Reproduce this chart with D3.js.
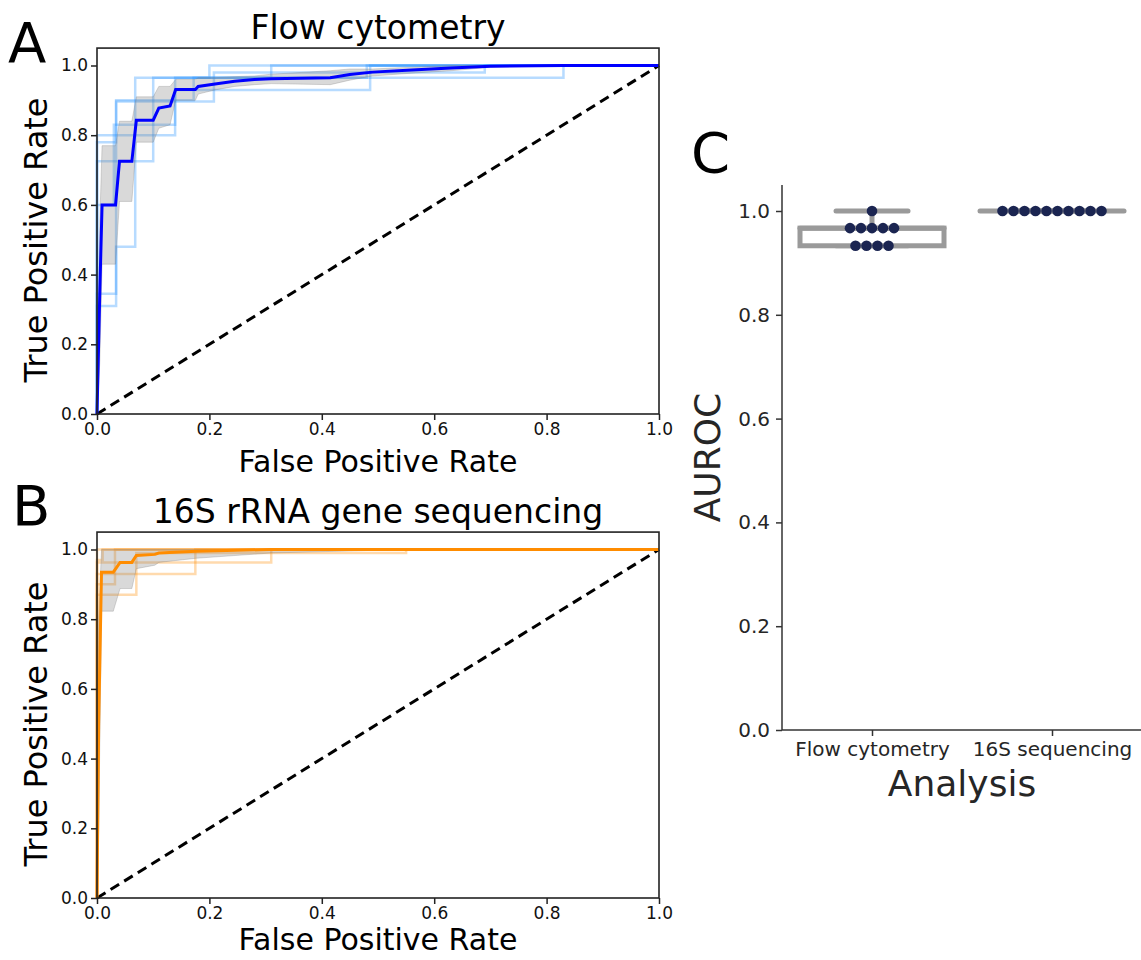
<!DOCTYPE html>
<html>
<head>
<meta charset="utf-8">
<script src="https://cdn.jsdelivr.net/npm/d3@7"></script>
<style>
body { margin: 0; background: #fff; }
text { font-family: "DejaVu Sans", sans-serif; }
</style>
</head>
<body>
<div id="chart"></div>
<script>
// ---- data ----
var ticksRoc = [0, 0.2, 0.4, 0.6, 0.8, 1.0];

// panel A : flow cytometry, single folds
var foldsA = [
  [[0,0],[0,0.31],[0.034,0.31],[0.034,0.90],[0.068,0.90],[0.068,0.965],[0.31,0.965],[0.31,1],[1,1]],
  [[0,0],[0,0.345],[0.034,0.345],[0.034,0.48],[0.068,0.48],[0.068,0.83],[0.139,0.83],[0.139,0.965],[0.48,0.965],[0.48,1],[1,1]],
  [[0,0],[0,0.725],[0.10,0.725],[0.10,0.965],[0.20,0.965],[0.20,1],[1,1]],
  [[0,0],[0,0.80],[0.139,0.80],[0.139,0.93],[0.486,0.93],[0.486,1],[1,1]],
  [[0,0],[0,0.60],[0.03,0.60],[0.03,0.83],[0.068,0.83],[0.068,0.90],[0.172,0.90],[0.172,0.965],[0.83,0.965],[0.83,1],[1,1]],
  [[0,0],[0,0.78],[0.034,0.78],[0.034,0.897],[0.208,0.897],[0.208,0.98],[0.69,0.98],[0.69,1],[1,1]]
];
var meanFprA = [0, 0.005, 0.009, 0.033, 0.04, 0.062, 0.07, 0.10, 0.11, 0.13, 0.14, 0.175, 0.18, 0.21, 0.245, 0.28, 0.31, 0.415, 0.45, 0.49, 0.56, 0.63, 0.70, 0.83, 1.0];
var meanTprA = [0, 0.35, 0.60, 0.60, 0.725, 0.725, 0.843, 0.843, 0.878, 0.884, 0.931, 0.931, 0.94, 0.947, 0.955, 0.96, 0.962, 0.965, 0.974, 0.981, 0.987, 0.993, 0.998, 1.0, 1.0];
var upperTprA = [0, 0.55, 0.77, 0.77, 0.84, 0.84, 0.91, 0.91, 0.94, 0.94, 0.96, 0.96, 0.965, 0.965, 0.968, 0.97, 0.975, 0.985, 0.99, 0.99, 0.995, 1.0, 1.0, 1.0, 1.0];
var lowerTprA = [0, 0.15, 0.43, 0.43, 0.61, 0.61, 0.78, 0.78, 0.82, 0.83, 0.90, 0.90, 0.918, 0.93, 0.94, 0.945, 0.948, 0.945, 0.958, 0.97, 0.978, 0.985, 0.995, 1.0, 1.0];

// panel B : 16S sequencing
var foldsB = [
  [[0,0],[0,1],[1,1]],
  [[0,0],[0,0.90],[0.032,0.90],[0.032,1],[1,1]],
  [[0,0],[0,0.963],[0.31,0.963],[0.31,1],[1,1]],
  [[0,0],[0,0.93],[0.175,0.93],[0.175,1],[1,1]],
  [[0,0],[0,0.87],[0.07,0.87],[0.07,0.99],[0.55,0.99],[0.55,1],[1,1]],
  [[0,0],[0,0.97],[0.01,0.97],[0.01,1],[1,1]]
];
var meanFprB = [0, 0.003, 0.008, 0.029, 0.041, 0.062, 0.07, 0.103, 0.11, 0.177, 0.31, 0.55, 1.0];
var meanTprB = [0, 0.5, 0.935, 0.935, 0.963, 0.963, 0.983, 0.986, 0.99, 0.995, 1.0, 1.0, 1.0];
var upperTprB = [0, 0.8, 1.0, 1.0, 1.0, 1.0, 1.0, 1.0, 1.0, 1.0, 1.0, 1.0, 1.0];
var lowerTprB = [0, 0.2, 0.823, 0.823, 0.888, 0.888, 0.945, 0.955, 0.963, 0.975, 0.99, 1.0, 1.0];

// panel C : AUROC per fold
var analyses = ["Flow cytometry", "16S sequencing"];
var aurocFlow = [1.0, 0.967, 0.967, 0.967, 0.967, 0.967, 0.933, 0.933, 0.933, 0.933];
var auroc16S = [1.0, 1.0, 1.0, 1.0, 1.0, 1.0, 1.0, 1.0, 1.0, 1.0];
var ticksAuroc = [0, 0.2, 0.4, 0.6, 0.8, 1.0];

var svg = d3.select("#chart").append("svg")
  .attr("width", 1141)
  .attr("height", 960);

function drawRoc(cfg) {
  var g = svg.append("g");
  var x = d3.scaleLinear().domain([0, 1]).range([97, 659]);
  var y = d3.scaleLinear().domain([0, 1.05]).range([cfg.bottom, cfg.bottom - 1.05 * 348.5]);
  var top = y(1.05);
  var line = d3.line().x(function(d){ return x(d[0]); }).y(function(d){ return y(d[1]); });

  g.selectAll(".fold")
    .data(cfg.folds)
    .enter()
    .append("path")
    .attr("d", line)
    .style("fill", "none")
    .style("stroke", cfg.foldColor)
    .style("stroke-opacity", 0.32)
    .style("stroke-width", 2.5);

  g.append("path")
    .attr("d", line([[0,0],[1,1]]))
    .style("fill", "none")
    .style("stroke", "#000")
    .style("stroke-width", 3)
    .style("stroke-dasharray", "10,6");

  var area = d3.area()
    .x(function(d, i){ return x(cfg.fpr[i]); })
    .y0(function(d, i){ return y(cfg.lower[i]); })
    .y1(function(d, i){ return y(cfg.upper[i]); });
  g.append("path")
    .attr("d", area(cfg.fpr))
    .style("fill", "grey")
    .style("fill-opacity", 0.3)
    .style("stroke", "grey")
    .style("stroke-opacity", 0.3);

  var meanPts = cfg.fpr.map(function(f, i){ return [f, cfg.mean[i]]; });
  g.append("path")
    .attr("d", line(meanPts))
    .style("fill", "none")
    .style("stroke", cfg.meanColor)
    .style("stroke-width", 3);

  var xAxis = g.append("g")
    .attr("transform", "translate(0," + cfg.bottom + ")")
    .call(d3.axisBottom(x).tickValues(ticksRoc).tickFormat(d3.format(".1f")).tickSize(6).tickSizeOuter(0).tickPadding(3));
  var yAxis = g.append("g")
    .attr("transform", "translate(97,0)")
    .call(d3.axisLeft(y).tickValues(ticksRoc).tickFormat(d3.format(".1f")).tickSize(6).tickSizeOuter(0).tickPadding(3));
  [xAxis, yAxis].forEach(function(a){
    a.select(".domain").remove();
    a.selectAll("line").style("stroke", "#222").style("stroke-width", 1.5);
    a.selectAll("text").style("font-size", "17px").style("fill", "#111").style("font-family", "DejaVu Sans");
  });

  g.append("rect")
    .attr("x", 97).attr("y", top)
    .attr("width", 562).attr("height", cfg.bottom - top)
    .style("fill", "none")
    .style("stroke", "#222")
    .style("stroke-width", 1.6);

  g.append("text")
    .attr("x", 378).attr("y", top - 9)
    .attr("text-anchor", "middle")
    .style("font-size", "33px")
    .text(cfg.title);
  g.append("text")
    .attr("x", 378).attr("y", cfg.bottom + cfg.xlabGap)
    .attr("text-anchor", "middle")
    .style("font-size", "30px")
    .text("False Positive Rate");
  g.append("text")
    .attr("transform", "translate(47," + ((top + cfg.bottom) / 2 + 9) + ") rotate(-90)")
    .attr("text-anchor", "middle")
    .style("font-size", "32px")
    .text("True Positive Rate");
  g.append("text")
    .attr("x", cfg.letterX).attr("y", cfg.letterY)
    .style("font-size", "56px")
    .text(cfg.letter);
}

drawRoc({ bottom: 414, folds: foldsA, foldColor: "#1e90ff", meanColor: "#0000ff",
  fpr: meanFprA, mean: meanTprA, upper: upperTprA, lower: lowerTprA, xlabGap: 58,
  title: "Flow cytometry", letter: "A", letterX: 8, letterY: 62 });
drawRoc({ bottom: 898, folds: foldsB, foldColor: "#ff8c00", meanColor: "#ff8c00",
  fpr: meanFprB, mean: meanTprB, upper: upperTprB, lower: lowerTprB, xlabGap: 52,
  title: "16S rRNA gene sequencing", letter: "B", letterX: 12, letterY: 525 });

// ---- panel C ----
var gc = svg.append("g");
var xc = d3.scalePoint().domain(analyses).range([782, 1142]).padding(0.5);
var yc = d3.scaleLinear().domain([0, 1.05]).range([730, 730 - 1.05 * 519]);
var groups = [aurocFlow, auroc16S];
var boxGrey = "#9a9a9a";
var half = 72;

groups.forEach(function(vals, k){
  var cx = xc(analyses[k]);
  var s = vals.slice().sort(d3.ascending);
  var q1 = d3.quantile(s, 0.25), med = d3.quantile(s, 0.5), q3 = d3.quantile(s, 0.75);
  var iqr = q3 - q1;
  var hi = d3.max(s.filter(function(v){ return v <= q3 + 1.5 * iqr; }));
  var lo = d3.min(s.filter(function(v){ return v >= q1 - 1.5 * iqr; }));
  // whiskers
  gc.append("line").attr("x1", cx).attr("x2", cx).attr("y1", yc(q3)).attr("y2", yc(hi))
    .style("stroke", boxGrey).style("stroke-width", 5);
  gc.append("line").attr("x1", cx).attr("x2", cx).attr("y1", yc(q1)).attr("y2", yc(lo))
    .style("stroke", boxGrey).style("stroke-width", 5);
  [hi, lo].forEach(function(v){
    gc.append("line").attr("x1", cx - half / 2).attr("x2", cx + half / 2).attr("y1", yc(v)).attr("y2", yc(v))
      .style("stroke", boxGrey).style("stroke-width", 5).style("stroke-linecap", "round");
  });
  // box
  gc.append("rect")
    .attr("x", cx - half).attr("y", yc(q3))
    .attr("width", 2 * half).attr("height", yc(q1) - yc(q3))
    .style("fill", "#fff").style("stroke", boxGrey).style("stroke-width", 5);
  gc.append("line").attr("x1", cx - half).attr("x2", cx + half).attr("y1", yc(med)).attr("y2", yc(med))
    .style("stroke", boxGrey).style("stroke-width", 5).style("stroke-linecap", "round");

  // swarm: points of equal value set side by side
  var byVal = d3.groups(vals, function(v){ return v; });
  byVal.forEach(function(gv){
    var n = gv[1].length;
    gc.selectAll(null)
      .data(gv[1])
      .enter()
      .append("circle")
      .attr("cx", function(d, i){ return cx + (i - (n - 1) / 2) * 11; })
      .attr("cy", yc(gv[0]))
      .attr("r", 5.3)
      .style("fill", "#1b2551");
  });
});

var xcAxis = gc.append("g")
  .attr("transform", "translate(0,730)")
  .call(d3.axisBottom(xc).tickSize(6).tickSizeOuter(0).tickPadding(6));
var ycAxis = gc.append("g")
  .attr("transform", "translate(782,0)")
  .call(d3.axisLeft(yc).tickValues(ticksAuroc).tickFormat(d3.format(".1f")).tickSize(6).tickSizeOuter(0).tickPadding(6));
xcAxis.select(".domain").attr("d", "M782,0H1141");
ycAxis.select(".domain").attr("d", "M0," + yc(1.05) + "V730");
[xcAxis, ycAxis].forEach(function(a){
  a.selectAll("path,line").style("stroke", "#333").style("stroke-width", 1.5);
  a.selectAll("text").style("font-size", "20px").style("fill", "#262626").style("font-family", "DejaVu Sans");
});

gc.append("text")
  .attr("x", 962).attr("y", 796)
  .attr("text-anchor", "middle")
  .style("font-size", "36px").style("fill", "#262626")
  .text("Analysis");
gc.append("text")
  .attr("transform", "translate(720," + ((yc(1.05) + 730) / 2) + ") rotate(-90)")
  .attr("text-anchor", "middle")
  .style("font-size", "36px").style("fill", "#262626")
  .text("AUROC");
gc.append("text")
  .attr("x", 691).attr("y", 172)
  .style("font-size", "56px")
  .text("C");
</script>
</body>
</html>
